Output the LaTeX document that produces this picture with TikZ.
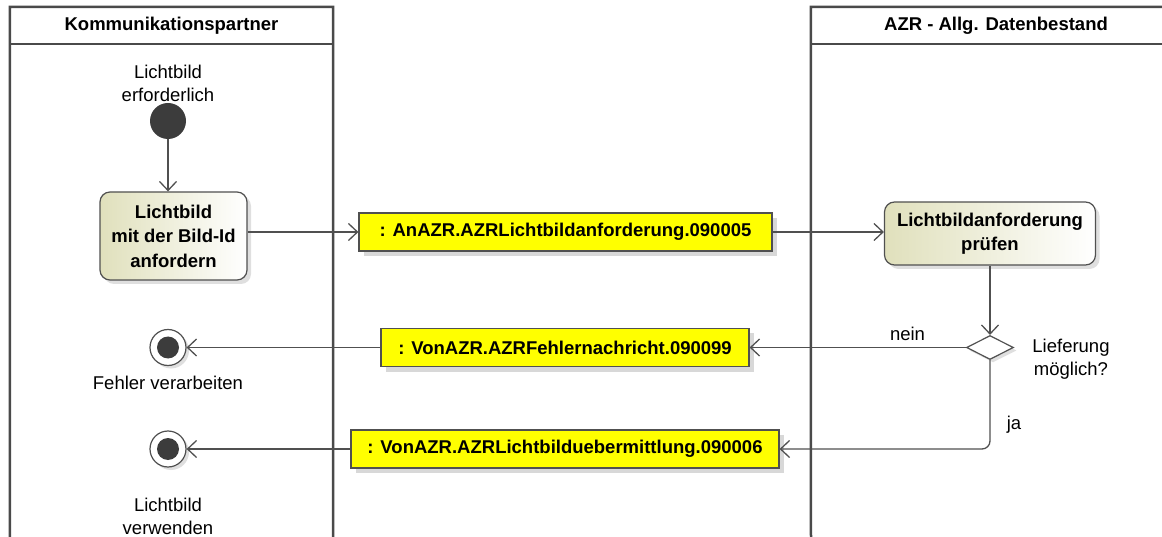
\documentclass[tikz,border=0pt]{standalone}
\usepackage{fontspec}
\setmainfont{Liberation Sans}
\usetikzlibrary{arrows.meta,positioning,shapes.geometric,shadows}
\definecolor{laneline}{HTML}{4A4A4A}
\definecolor{flowline}{HTML}{505050}
\definecolor{actfill}{HTML}{E0E0BC}
\definecolor{objfill}{HTML}{FFFF00}
\definecolor{dotfill}{HTML}{3C3C3C}
\newcommand{\lblfont}{\fontsize{18.5}{23}\selectfont}
\newcommand{\boldfont}{\fontsize{18.5}{24.5}\selectfont\bfseries}

\begin{document}
\begin{tikzpicture}[x=1pt, y=-1pt,
      lane/.style={draw=laneline, line width=2.5pt},
      lanehead/.style={rectangle, font=\boldfont, minimum height=37pt, inner sep=0pt},
      action/.style={rectangle, rounded corners=10pt, draw=flowline, line width=1.2pt,
                     left color=actfill, right color=white, align=center, font=\boldfont,
                     inner sep=0pt, drop shadow={shadow xshift=4pt, shadow yshift=-4pt, fill=black!25}},
      objbox/.style={rectangle, draw=flowline, line width=1.2pt, fill=objfill, font=\boldfont,
                     minimum height=38pt, inner sep=0pt,
                     drop shadow={shadow xshift=5pt, shadow yshift=-5pt, fill=black!30}},
      startnode/.style={circle, fill=dotfill, minimum size=36pt, inner sep=0pt},
      finalnode/.style={circle, draw=flowline, line width=1.2pt, fill=white, minimum size=36pt, inner sep=0pt,
                        drop shadow={shadow xshift=3pt, shadow yshift=-3pt, fill=black!25},
                        path picture={\fill[dotfill] (path picture bounding box.center) circle (11pt);}},
      decision/.style={diamond, draw=flowline, line width=1.2pt, fill=white, minimum width=47pt,
                       minimum height=24pt, inner sep=0pt,
                       drop shadow={shadow xshift=3pt, shadow yshift=-3pt, fill=black!25}},
      lbl/.style={font=\lblfont, align=center, inner sep=0pt},
      flow/.style={-{Straight Barb[length=9pt, width=17pt]}, draw=flowline, line width=1.3pt}
    ]
      \useasboundingbox (0,0) rectangle (1162,537);
      \clip (0,0) rectangle (1162,537);

      % Lanes
      \node[lanehead, minimum width=323pt] (kp) at (171.5,25.5) {Kommunikationspartner};
      \node[lanehead, minimum width=370pt] (azr) at (996,25.5) {AZR - Allg. Datenbestand};
      \draw[lane] (10,560) -- (kp.south west) -- (kp.north west) -- (kp.north east) -- (kp.south east) -- (333,560);
      \draw[lane] (kp.south west) -- (kp.south east);
      \draw[lane] (811,560) -- (azr.south west) -- (azr.north west) -- (azr.north east);
      \draw[lane] (azr.south west) -- (azr.south east);

      % Start
      \node[lbl] (startlbl) at (168,83) {Lichtbild\\erforderlich};
      \node[startnode] (init) at (168,121) {};

      % Actions
      \node[action, minimum width=147pt, minimum height=88pt] (act1) at (173.5,236)
        {Lichtbild\\mit der Bild-Id\\anfordern};
      \node[action, minimum width=211pt, minimum height=63pt] (act2) at (990,233.5)
        {Lichtbildanforderung\\pr\"ufen};

      % Objects
      \node[objbox, minimum width=413pt] (o1) at (565.5,232) {: AnAZR.AZRLichtbildanforderung.090005};
      \node[objbox, minimum width=368pt] (o2) at (565,347.5) {: VonAZR.AZRFehlernachricht.090099};
      \node[objbox, minimum width=428pt] (o3) at (565,449) {: VonAZR.AZRLichtbilduebermittlung.090006};

      % Decision
      \node[decision] (dec) at (990,347.5) {};
      \node[lbl] (declbl) at (1071,359) {Lieferung\\m\"oglich?};

      % Ends
      \node[finalnode] (fin1) at (168,347.5) {};
      \node[lbl] (fin1lbl) at (168,383) {Fehler verarbeiten};
      \node[finalnode] (fin2) at (168,449) {};
      \node[lbl] (fin2lbl) at (168,516) {Lichtbild\\verwenden};

      % Edges
      \draw[flow] (init) -- (init |- act1.north);
      \draw[flow] (act1.east |- o1.west) -- (o1.west);
      \draw[flow] (o1.east) -- (o1.east -| act2.west);
      \draw[flow] (act2.south) -- (dec.north);
      \draw[flow] (dec.west) -- (dec.west -| o2.east) node[pos=0.27, above=6pt, lbl] {nein};
      \draw[flow] (o2.west) -- (fin1.east);
      \draw[flow, rounded corners=8pt] (dec.south) |- (o3.east);
      \node[lbl] (jalbl) at (1014,425) {ja};
      \draw[flow] (o3.west) -- (fin2.east);
    \end{tikzpicture}
\end{document}
